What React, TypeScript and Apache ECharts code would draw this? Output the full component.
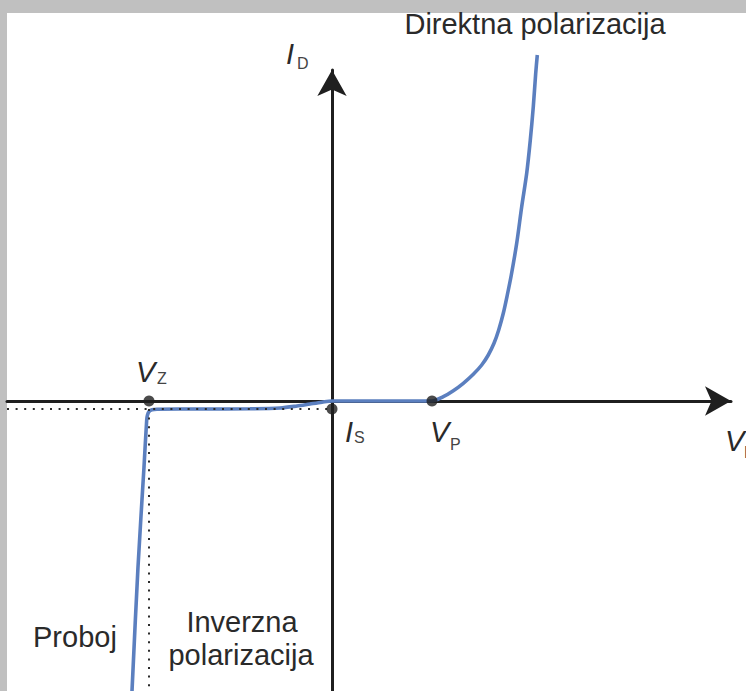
import { useEffect, useRef } from "react";
import * as echarts from "echarts";

// Diode I–V characteristic (arbitrary units: volts on x, current on y)
const forwardVoltage = [0, 0.5, 1.0, 1.113, 1.213, 1.313, 1.413, 1.497, 1.563, 1.62, 1.667, 1.713, 1.753, 1.793, 1.847, 1.897, 1.947, 1.983, 2.013, 2.037, 2.053];
const forwardCurrent = [0, 0, 0, 0.043, 0.103, 0.177, 0.267, 0.36, 0.46, 0.577, 0.71, 0.877, 1.06, 1.26, 1.577, 1.943, 2.277, 2.61, 2.943, 3.277, 3.46];
const reverseVoltage = [-2.0, -1.94, -1.88, -1.853, -1.845, -1.83, -1.8, -1.75, -1.3, -0.82, -0.52, -0.35, -0.22, -0.1];
const reverseCurrent = [-2.9, -1.66, -0.66, -0.19, -0.14, -0.105, -0.088, -0.082, -0.08, -0.078, -0.07, -0.05, -0.03, -0.012];

const breakdownVoltage = -1.83; // V_Z
const thresholdVoltage = 1.0; // V_P
const saturationCurrent = -0.08; // I_S

const voltageRange = [-3.25, 3.99];
const currentRange = [-2.9, 3.31];

const FONT = "'Liberation Sans', Arial, Helvetica, sans-serif";
const TEXT = "#2a2a2a";
const SUB = "#444";
const AXIS = "#1f1f1f";
const CURVE = "#5b7fbf";

function mainLetter(text: string, x: number, y: number) {
  return {
    type: "text",
    z: 100,
    x,
    y,
    style: {
      text,
      font: `italic 29px ${FONT}`,
      fill: TEXT,
      textAlign: "left",
      textVerticalAlign: "middle",
      verticalAlign: "middle",
    },
  };
}

function subscript(text: string, x: number, y: number) {
  return {
    type: "text",
    z: 100,
    x,
    y,
    style: {
      text,
      font: `16px ${FONT}`,
      fill: SUB,
      textAlign: "left",
      textVerticalAlign: "middle",
      verticalAlign: "middle",
    },
  };
}

function caption(text: string, x: number, y: number, align: string) {
  return {
    type: "text",
    z: 100,
    x,
    y,
    style: {
      text,
      font: `29px ${FONT}`,
      fill: TEXT,
      textAlign: align,
      textVerticalAlign: "middle",
      verticalAlign: "middle",
    },
  };
}

export default function App() {
  const ref = useRef<HTMLDivElement>(null);

  useEffect(() => {
    if (!ref.current) return;
    const chart = echarts.init(ref.current, undefined, { renderer: "svg" });

    const curve: number[][] = [];
    reverseVoltage.forEach((v, i) => curve.push([v, reverseCurrent[i]]));
    forwardVoltage.forEach((v, i) => curve.push([v, forwardCurrent[i]]));

    const dotted = {
      type: "line",
      showSymbol: false,
      silent: true,
      clip: false,
      z: 4,
      lineStyle: { color: "#2b2b2b", width: 2, type: [2, 6.6] },
    };

    chart.setOption({
      animation: false,
      backgroundColor: "#c0c0c0",
      grid: { left: 7, right: 15, top: 70, bottom: 0 },
      xAxis: {
        type: "value",
        min: voltageRange[0],
        max: voltageRange[1],
        axisLine: {
          show: true,
          onZero: true,
          symbol: ["none", "arrow"],
          symbolSize: [22, 26],
          lineStyle: { color: AXIS, width: 3 },
        },
        axisTick: { show: false },
        axisLabel: { show: false },
        splitLine: { show: false },
      },
      yAxis: {
        type: "value",
        min: currentRange[0],
        max: currentRange[1],
        axisLine: {
          show: true,
          onZero: true,
          symbol: ["none", "arrow"],
          symbolSize: [22, 26],
          lineStyle: { color: AXIS, width: 3 },
        },
        axisTick: { show: false },
        axisLabel: { show: false },
        splitLine: { show: false },
      },
      series: [
        {
          type: "line",
          data: curve,
          showSymbol: false,
          smooth: 0.3,
          clip: false,
          z: 3,
          lineStyle: { color: CURVE, width: 3.6 },
        },
        {
          ...dotted,
          data: [
            [voltageRange[0], saturationCurrent],
            [0, saturationCurrent],
          ],
        },
        {
          ...dotted,
          data: [
            [breakdownVoltage, saturationCurrent],
            [breakdownVoltage, currentRange[0]],
          ],
        },
        {
          type: "scatter",
          z: 5,
          symbolSize: 11,
          itemStyle: { color: "#1e1e1e" },
          data: [
            [breakdownVoltage, 0],
            [0, saturationCurrent],
            [thresholdVoltage, 0],
          ],
        },
      ],
      graphic: [
        {
          type: "rect",
          z: -100,
          silent: true,
          shape: { x: 7, y: 13, width: 739, height: 678 },
          style: { fill: "#ffffff" },
        },
        caption("Direktna polarizacija", 535, 24, "center"),
        caption("Proboj", 33, 637, "left"),
        caption("Inverzna", 242, 622, "center"),
        caption("polarizacija", 241, 655, "center"),
        mainLetter("I", 286, 54),
        subscript("D", 297, 63),
        mainLetter("V", 136, 372),
        subscript("Z", 157, 378),
        mainLetter("I", 345, 432),
        subscript("S", 354, 437),
        mainLetter("V", 430, 432),
        subscript("P", 450, 444),
        mainLetter("V", 725, 441),
        subscript("D", 744, 452),
      ],
    });

    return () => chart.dispose();
  }, []);

  return (
    <div
      ref={ref}
      style={{ position: "fixed", left: 0, top: 0, width: 746, height: 691 }}
    />
  );
}
